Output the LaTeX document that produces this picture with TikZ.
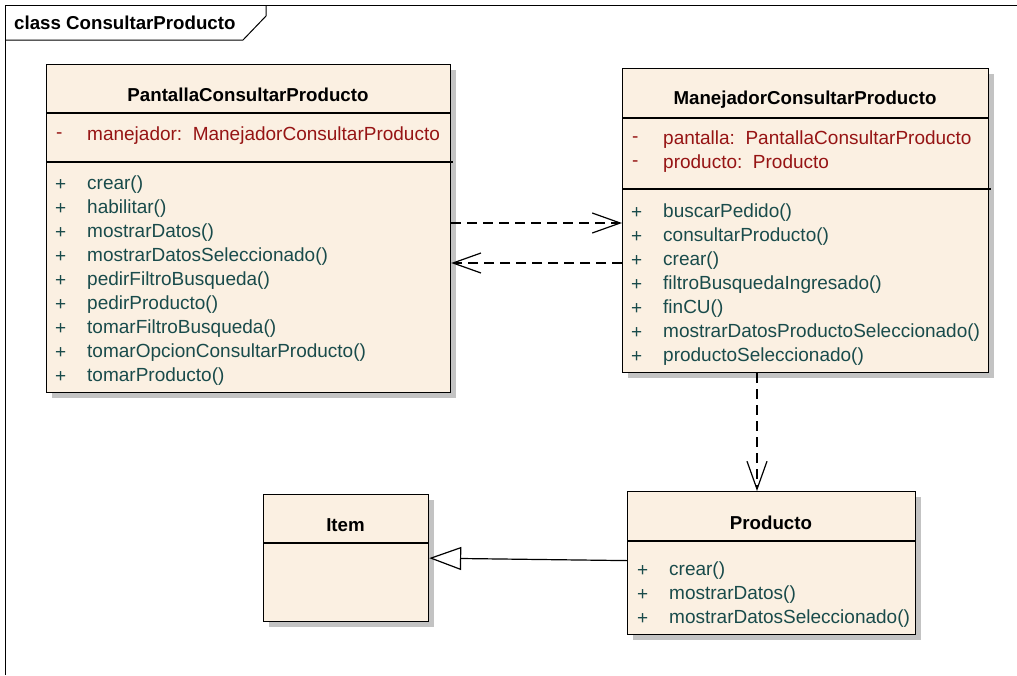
\documentclass[tikz,border=0pt]{standalone}
\usepackage{fontspec}
\setmainfont{Liberation Sans}
\usetikzlibrary{arrows.meta,shadows}
\definecolor{boxfill}{RGB}{251,240,226}
\definecolor{attrred}{RGB}{150,20,20}
\definecolor{methteal}{RGB}{25,75,75}
\definecolor{shadowgray}{RGB}{195,195,195}
\begin{document}
\begin{tikzpicture}[x=1pt,y=-1pt,
  classbox/.style={draw=black, line width=1.2pt, fill=boxfill, anchor=north west, inner sep=0pt,
    drop shadow={shadow xshift=5pt, shadow yshift=-5pt, fill=shadowgray, opacity=1}},
  sepline/.style={draw=black, line width=1.2pt},
  txt/.style={font=\fontsize{19}{23}\selectfont, inner sep=0pt, anchor=west, yshift=-2pt},
  ttl/.style={font=\fontsize{18.7}{23}\selectfont\bfseries, inner sep=0pt, anchor=center, yshift=-1.5pt},
  attr/.style={txt, text=attrred},
  meth/.style={txt, text=methteal},
  dep/.style={draw=black, line width=1.2pt, dash pattern=on 10pt off 6pt, -{Straight Barb[length=28pt,width=20pt,line width=1.2pt]}},
  gen/.style={draw=black, line width=1.2pt, -{Triangle[open, length=32pt, width=23pt, line width=1.2pt, fill=white]}},
  frameline/.style={draw=black, line width=1pt}
]
\useasboundingbox (0,0) rectangle (1017,675);
% frame
\draw[frameline] (5,675) -- (5,5) -- (1017,5);
\draw[frameline] (5,40) -- (243,40) -- (266,16) -- (266,5);
\node[font=\fontsize{18.7}{23}\selectfont\bfseries, inner sep=0pt, anchor=west] (frametitle) at (14,23) {class ConsultarProducto};

% PantallaConsultarProducto
\node[classbox, minimum width=404pt, minimum height=328pt] (pan) at (46,64) {};
\draw[sepline] (46,113) -- (450,113);
\draw[sepline] (46,162) -- (453,162);
\node[ttl] (pant) at (248,93) {PantallaConsultarProducto};
\node[attr] (pana1s) at (56,134) {-};
\node[attr] (pana1) at (87,134) {manejador:~~ManejadorConsultarProducto};
\foreach \i/\m in {0/crear(),1/habilitar(),2/mostrarDatos(),3/mostrarDatosSeleccionado(),4/pedirFiltroBusqueda(),5/pedirProducto(),6/tomarFiltroBusqueda(),7/tomarOpcionConsultarProducto(),8/tomarProducto()}{
  \node[meth] (panms\i) at (55,183+24*\i) {+};
  \node[meth] (panm\i) at (87,183+24*\i) {\m};
}

% ManejadorConsultarProducto
\node[classbox, minimum width=366pt, minimum height=304pt] (man) at (622,68) {};
\draw[sepline] (622,118) -- (988,118);
\draw[sepline] (622,189) -- (991,189);
\node[ttl] (mant) at (805,98) {ManejadorConsultarProducto};
\node[attr] (mana1s) at (632,138) {-};
\node[attr] (mana1) at (663,138) {pantalla:~~PantallaConsultarProducto};
\node[attr] (mana2s) at (632,162) {-};
\node[attr] (mana2) at (663,162) {producto:~~Producto};
\foreach \i/\m in {0/buscarPedido(),1/consultarProducto(),2/crear(),3/filtroBusquedaIngresado(),4/finCU(),5/mostrarDatosProductoSeleccionado(),6/productoSeleccionado()}{
  \node[meth] (manms\i) at (631,211+24*\i) {+};
  \node[meth] (manm\i) at (663,211+24*\i) {\m};
}

% Item
\node[classbox, minimum width=165pt, minimum height=127pt] (item) at (263,494) {};
\draw[sepline] (263,543) -- (428,543);
\node[ttl] (itemt) at (345.5,524) {Item};

% Producto
\node[classbox, minimum width=288pt, minimum height=143pt] (prod) at (627,491) {};
\draw[sepline] (627,541) -- (915,541);
\node[ttl] (prodt) at (771,521) {Producto};
\foreach \i/\m in {0/crear(),1/mostrarDatos(),2/mostrarDatosSeleccionado()}{
  \node[meth] (prodms\i) at (637,569+24*\i) {+};
  \node[meth] (prodm\i) at (669,569+24*\i) {\m};
}

% connectors
\draw[dep] ([yshift=-159pt]pan.north east) -- ([yshift=-155pt]man.north west);
\draw[dep] ([yshift=-195pt]man.north west) -- ([yshift=-199pt]pan.north east);
\draw[dep] ([xshift=135pt]man.south west) -- ([xshift=130pt]prod.north west);
\draw[gen] ([yshift=2.5pt]prod.west) -- (item.east);
\end{tikzpicture}
\end{document}
